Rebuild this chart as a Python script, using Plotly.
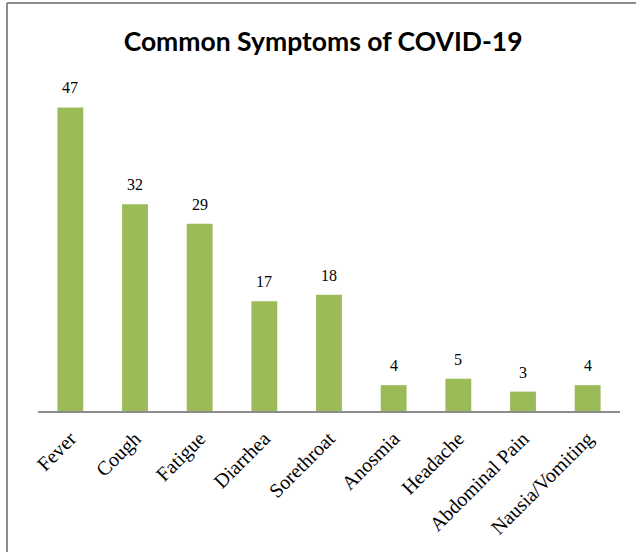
import plotly.graph_objects as go

categories = ["Fever", "Cough", "Fatigue", "Diarrhea", "Sorethroat", "Anosmia",
              "Headache", "Abdominal Pain", "Nausia/Vomiting"]
values = [47, 32, 29, 17, 18, 4, 5, 3, 4]

W, H = 636, 552
ml, mr, mt, mb = 38, 16, 88, 141
pw, ph = W - ml - mr, H - mt - mb

fig = go.Figure()
fig.add_trace(go.Bar(
    x=categories, y=values,
    marker=dict(color="#9BBB59", line=dict(width=0)),
    width=0.4,
    hoverinfo="x+y",
))

for c, v in zip(categories, values):
    fig.add_annotation(x=c, y=v, text=str(v), showarrow=False,
                       yanchor="bottom", yshift=9,
                       font=dict(family="Liberation Serif", size=16, color="#000"))

# chart border (top & left)
bx = (7 - ml) / pw
by = 1 + (mt - 3) / ph
fig.add_shape(type="line", xref="paper", yref="paper", x0=bx, x1=(W - ml) / pw + 0.01,
              y0=by, y1=by, line=dict(color="#8c8c8c", width=2))
fig.add_shape(type="line", xref="paper", yref="paper", x0=bx, x1=bx,
              y0=by, y1=-(mb + 5) / ph, line=dict(color="#8c8c8c", width=2))

fig.update_layout(
    width=W, height=H,
    margin=dict(l=ml, r=mr, t=mt, b=mb, pad=0),
    paper_bgcolor="white", plot_bgcolor="white",
    title=dict(text="<b>Common Symptoms of COVID-19</b>", x=0.508, xanchor="center",
               y=1 - 42 / H, yanchor="middle",
               font=dict(family="Lato", size=26.5, color="#000")),
    showlegend=False,
    bargap=0.6,
    xaxis=dict(showline=True, linecolor="#8c8c8c", linewidth=2, ticks="",
               tickangle=-45, showgrid=False, ticklabelstandoff=6,
               tickfont=dict(family="Liberation Serif", size=20, color="#000")),
    yaxis=dict(range=[0, 50], visible=False, showgrid=False, zeroline=False),
)

fig.write_html("out.html")
